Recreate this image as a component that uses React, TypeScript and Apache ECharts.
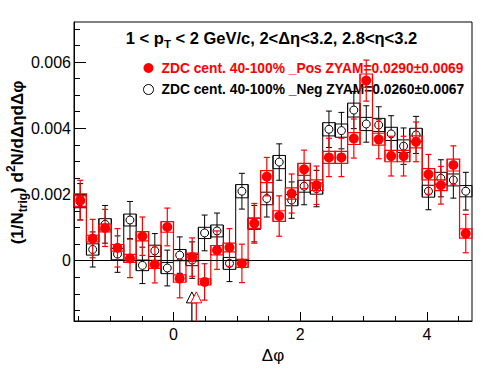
import React, { useEffect, useRef } from 'react';
import * as echarts from 'echarts';

const FONT = '"Liberation Sans", Arial, Helvetica, sans-serif';
const UNIT = 1e-3;

// bin centres in Δφ (32 bins over [-π/2, 3π/2])
const PHI_BINS = [
  -1.473, -1.276, -1.080, -0.884, -0.687, -0.491, -0.295, -0.098,
  0.098, 0.295, 0.491, 0.687, 0.884, 1.080, 1.276, 1.473,
  1.669, 1.865, 2.062, 2.258, 2.454, 2.651, 2.847, 3.043,
  3.240, 3.436, 3.632, 3.829, 4.025, 4.221, 4.418, 4.614,
];
const HALF_BIN = 0.0982;

// values in units of 1e-3
const POS_Y = [
  1.83, 0.67, 0.99, 0.39, 0.07, 0.74, -0.11, 1.02,
  -0.54, 0.11, -0.64, 0.32, 0.40, -0.08, 1.13, 2.54,
  1.35, 2.03, 2.76, 2.28, 3.12, 3.12, 3.69, 5.44,
  3.67, 3.16, 3.16, 3.59, 2.61, 2.28, 2.89, 0.82,
];
const POS_ERR = [
  0.60, 0.58, 0.56, 0.58, 0.58, 0.58, 0.56, 0.57,
  0.58, 0.58, 0.55, 0.58, 0.57, 0.58, 0.60, 0.58,
  0.61, 0.59, 0.58, 0.58, 0.58, 0.58, 0.59, 0.62,
  0.59, 0.60, 0.60, 0.60, 0.60, 0.57, 0.58, 0.58,
];
const POS_SYS = [
  0.19, 0.10, 0.12, 0.10, 0.12, 0.14, 0.12, 0.16,
  0.11, 0.12, 0.09, 0.14, 0.13, 0.12, 0.15, 0.18,
  0.16, 0.17, 0.18, 0.16, 0.18, 0.18, 0.18, 0.20,
  0.18, 0.17, 0.17, 0.18, 0.17, 0.16, 0.18, 0.14,
];

const NEG_Y = [
  1.78, 0.34, 1.10, 0.20, 1.23, -0.14, 0.30, -0.22,
  0.17, 0.02, 0.84, 0.90, -0.08, 2.10, 1.12, 1.88,
  2.98, 1.83, 2.25, 2.18, 3.97, 3.93, 4.55, 4.13,
  4.10, 3.83, 3.46, 3.80, 2.10, 2.49, 2.44, 2.10,
];
const NEG_ERR = [
  0.55, 0.53, 0.57, 0.55, 0.56, 0.55, 0.52, 0.54,
  0.55, 0.55, 0.54, 0.54, 0.55, 0.54, 0.55, 0.56,
  0.55, 0.55, 0.56, 0.55, 0.55, 0.55, 0.56, 0.55,
  0.55, 0.55, 0.55, 0.56, 0.56, 0.56, 0.55, 0.57,
];
const NEG_SYS = [
  0.18, 0.17, 0.17, 0.17, 0.18, 0.16, 0.17, 0.17,
  0.17, 0.17, 0.17, 0.18, 0.18, 0.20, 0.17, 0.19,
  0.20, 0.17, 0.18, 0.17, 0.20, 0.20, 0.21, 0.20,
  0.20, 0.20, 0.19, 0.20, 0.18, 0.18, 0.18, 0.17,
];

// ZYAM-minimum arrows (Δφ position, tip value in 1e-3)
const ARROW_X = [0.29, 0.36];
const ARROW_TIP = [-0.94, -0.94];
const ARROW_COLORS = ['#000000', '#ff0000'];

const POS_NAME = 'ZDC cent. 40-100% _Pos ZYAM=0.0290±0.0069';
const NEG_NAME = 'ZDC cent. 40-100% _Neg ZYAM=0.0260±0.0067';

const X_MIN = -Math.PI / 2;
const X_MAX = (3 * Math.PI) / 2;
const Y_MIN = -0.00182;
const Y_MAX = 0.00721;

const X_MAJOR_TICKS = [0, 2, 4];
const X_MINOR_TICKS = [-1.5, -1, -0.5, 0, 0.5, 1, 1.5, 2, 2.5, 3, 3.5, 4, 4.5];
const Y_MAJOR_TICKS = [0, 0.002, 0.004, 0.006];
const Y_MINOR_TICKS = [
  -0.0015, -0.001, -0.0005, 0, 0.0005, 0.001, 0.0015, 0.002, 0.0025, 0.003,
  0.0035, 0.004, 0.0045, 0.005, 0.0055, 0.006, 0.0065, 0.007,
];

const RED = '#ff0000';

function buildBoxData(ys: number[], errs: number[], syss: number[]) {
  return PHI_BINS.map((x, i) => {
    const y = ys[i] * UNIT;
    const s = syss[i] * UNIT;
    const pi = i > 0 ? i - 1 : i;
    const pLo = (ys[pi] - syss[pi]) * UNIT;
    const pHi = (ys[pi] + syss[pi]) * UNIT;
    return [x, y, errs[i] * UNIT, s, pLo, pHi];
  });
}

function boxRender(color: string, lw: number) {
  return (params: any, api: any) => {
    const x = api.value(0);
    const y = api.value(1);
    const err = api.value(2);
    const sys = api.value(3);
    const pLo = api.value(4);
    const pHi = api.value(5);
    const p1 = api.coord([x - HALF_BIN, y + sys]);
    const p2 = api.coord([x + HALF_BIN, y - sys]);
    const eT = api.coord([x, y + err]);
    const eB = api.coord([x, y - err]);
    const cT = api.coord([x - HALF_BIN, Math.max(y + sys, pHi)]);
    const cB = api.coord([x - HALF_BIN, Math.min(y - sys, pLo)]);
    const st = { stroke: color, lineWidth: lw, fill: 'none' };
    const cap = 3;
    return {
      type: 'group',
      children: [
        { type: 'line', shape: { x1: cT[0], y1: cT[1], x2: cB[0], y2: cB[1] }, style: st },
        { type: 'rect', shape: { x: p1[0], y: p1[1], width: p2[0] - p1[0], height: p2[1] - p1[1] }, style: st },
        { type: 'line', shape: { x1: eT[0], y1: eT[1], x2: eB[0], y2: eB[1] }, style: st },
        { type: 'line', shape: { x1: eT[0] - cap, y1: eT[1], x2: eT[0] + cap, y2: eT[1] }, style: st },
        { type: 'line', shape: { x1: eB[0] - cap, y1: eB[1], x2: eB[0] + cap, y2: eB[1] }, style: st },
      ],
    };
  };
}

export default function App() {
  const ref = useRef<HTMLDivElement>(null);

  useEffect(() => {
    if (!ref.current) return;
    const chart = echarts.init(ref.current, null, { renderer: 'svg' });

    const axisCommon = {
      type: 'value',
      splitLine: { show: false },
    };

    const option: any = {
      animation: false,
      backgroundColor: '#ffffff',
      textStyle: { fontFamily: FONT, color: '#000' },
      grid: {
        left: 74,
        right: 24,
        top: 22,
        bottom: 53,
        show: true,
        borderColor: '#000',
        borderWidth: 1,
        backgroundColor: 'transparent',
      },
      xAxis: [
        {
          ...axisCommon,
          min: X_MIN,
          max: X_MAX,
          position: 'bottom',
          axisLine: { show: true, onZero: false, lineStyle: { color: '#000', width: 1 } },
          axisTick: { show: true, inside: true, length: 5, customValues: X_MINOR_TICKS, lineStyle: { color: '#000' } },
          axisLabel: { show: false },
        },
        {
          ...axisCommon,
          min: X_MIN,
          max: X_MAX,
          position: 'bottom',
          axisLine: { show: false, onZero: false },
          axisTick: { show: true, inside: true, length: 9, customValues: X_MAJOR_TICKS, lineStyle: { color: '#000' } },
          axisLabel: {
            show: true,
            customValues: X_MAJOR_TICKS,
            fontSize: 16,
            color: '#000',
            fontFamily: FONT,
            margin: 5,
            formatter: (v: number) => String(v),
          },
          name: 'Δφ',
          nameLocation: 'middle',
          nameGap: 23,
          nameTextStyle: { fontSize: 17, color: '#000', fontFamily: FONT },
        },
      ],
      yAxis: [
        {
          ...axisCommon,
          min: Y_MIN,
          max: Y_MAX,
          position: 'left',
          axisLine: { show: true, onZero: false, lineStyle: { color: '#000', width: 1 } },
          axisTick: { show: true, inside: true, length: 6, customValues: Y_MINOR_TICKS, lineStyle: { color: '#000' } },
          axisLabel: { show: false },
        },
        {
          ...axisCommon,
          min: Y_MIN,
          max: Y_MAX,
          position: 'left',
          axisLine: { show: false, onZero: false },
          axisTick: { show: true, inside: true, length: 12, customValues: Y_MAJOR_TICKS, lineStyle: { color: '#000' } },
          axisLabel: {
            show: true,
            customValues: Y_MAJOR_TICKS,
            fontSize: 16,
            color: '#000',
            fontFamily: FONT,
            margin: 3,
            formatter: (v: number) => (v === 0 ? '0' : v.toFixed(3)),
          },
        },
      ],
      legend: {
        left: 143,
        top: 60,
        orient: 'vertical',
        padding: 0,
        itemGap: 5.5,
        itemWidth: 10,
        itemHeight: 10,
        selectedMode: false,
        textStyle: { fontSize: 13.8, fontWeight: 'bold', fontFamily: FONT, lineHeight: 16, padding: [0, 0, 0, 3] },
        data: [
          { name: POS_NAME, icon: 'circle', itemStyle: { color: RED, borderWidth: 0 }, textStyle: { color: RED } },
          {
            name: NEG_NAME,
            icon: 'circle',
            itemStyle: { color: '#ffffff', borderColor: '#000', borderWidth: 1 },
            textStyle: { color: '#000' },
          },
        ],
      },
      graphic: [
        {
          type: 'text',
          x: 271.5,
          y: 38,
          style: {
            text: '{m|1 < p}{s|T}{m| < 2 GeV/c, 2<Δη<3.2, 2.8<η<3.2}',
            rich: {
              m: { fontSize: 16.5, fontWeight: 'bold', fontFamily: FONT, lineHeight: 24, verticalAlign: 'middle', fill: '#000' },
              s: { fontSize: 11.5, fontWeight: 'bold', fontFamily: FONT, lineHeight: 8, verticalAlign: 'bottom', fill: '#000' },
            },
            align: 'center',
            verticalAlign: 'middle',
            textAlign: 'center',
            textVerticalAlign: 'middle',
            fill: '#000',
          },
        },
        {
          type: 'text',
          x: 17,
          y: 162.5,
          rotation: Math.PI / 2,
          style: {
            text: '{m|(1/N}{s|trig}{m|) d}{p|2}{m|N/dΔηdΔφ}',
            rich: {
              m: { fontSize: 17, fontWeight: 'bold', fontFamily: FONT, lineHeight: 24, verticalAlign: 'middle', fill: '#000' },
              s: { fontSize: 12, fontWeight: 'bold', fontFamily: FONT, lineHeight: 8, verticalAlign: 'bottom', fill: '#000' },
              p: { fontSize: 12, fontWeight: 'bold', fontFamily: FONT, lineHeight: 8, verticalAlign: 'top', fill: '#000' },
            },
            align: 'center',
            verticalAlign: 'middle',
            textAlign: 'center',
            textVerticalAlign: 'middle',
            fill: '#000',
          },
        },
      ],
      series: [
        {
          type: 'custom',
          name: 'neg-sys',
          xAxisIndex: 0,
          yAxisIndex: 0,
          dimensions: ['x', 'y', 'err', 'sys', 'pLo', 'pHi'],
          encode: { x: 0, y: 1 },
          data: buildBoxData(NEG_Y, NEG_ERR, NEG_SYS),
          renderItem: boxRender('#000000', 1),
          silent: true,
          markLine: {
            silent: true,
            symbol: ['none', 'none'],
            label: { show: false },
            lineStyle: { color: '#000', width: 1, type: 'solid' },
            data: [{ yAxis: 0 }],
          },
          z: 2,
        },
        {
          type: 'scatter',
          name: NEG_NAME,
          xAxisIndex: 0,
          yAxisIndex: 0,
          symbol: 'circle',
          symbolSize: 8,
          itemStyle: { color: '#ffffff', borderColor: '#000', borderWidth: 1, opacity: 1 },
          data: PHI_BINS.map((x, i) => [x, NEG_Y[i] * UNIT]),
          z: 3,
        },
        {
          type: 'custom',
          name: 'pos-sys',
          xAxisIndex: 0,
          yAxisIndex: 0,
          dimensions: ['x', 'y', 'err', 'sys', 'pLo', 'pHi'],
          encode: { x: 0, y: 1 },
          data: buildBoxData(POS_Y, POS_ERR, POS_SYS),
          renderItem: boxRender(RED, 1.2),
          silent: true,
          z: 4,
        },
        {
          type: 'scatter',
          name: POS_NAME,
          xAxisIndex: 0,
          yAxisIndex: 0,
          symbol: 'circle',
          symbolSize: 10,
          itemStyle: { color: RED, opacity: 1 },
          data: PHI_BINS.map((x, i) => [x, POS_Y[i] * UNIT]),
          z: 5,
        },
        {
          type: 'custom',
          name: 'zyam-arrows',
          xAxisIndex: 0,
          yAxisIndex: 0,
          silent: true,
          data: ARROW_X.map((x, i) => [x, ARROW_TIP[i] * UNIT]),
          renderItem: (params: any, api: any) => {
            const c = ARROW_COLORS[params.dataIndex];
            const x = api.value(0);
            const tip = api.value(1);
            const t = api.coord([x, tip]);
            const b = api.coord([x, Y_MIN]);
            const h = 11;
            const w = 5.5;
            return {
              type: 'group',
              children: [
                { type: 'line', shape: { x1: t[0], y1: t[1] + h, x2: b[0], y2: b[1] }, style: { stroke: c, lineWidth: 1.2 } },
                {
                  type: 'polygon',
                  shape: { points: [[t[0], t[1]], [t[0] - w, t[1] + h], [t[0] + w, t[1] + h]] },
                  style: { fill: '#ffffff', stroke: c, lineWidth: 1 },
                },
              ],
            };
          },
          z: 6,
        },
      ],
    };

    chart.setOption(option);
    return () => chart.dispose();
  }, []);

  return (
    <div
      ref={ref}
      style={{ position: 'fixed', left: 0, top: 0, width: 496, height: 374, background: '#fff' }}
    />
  );
}
